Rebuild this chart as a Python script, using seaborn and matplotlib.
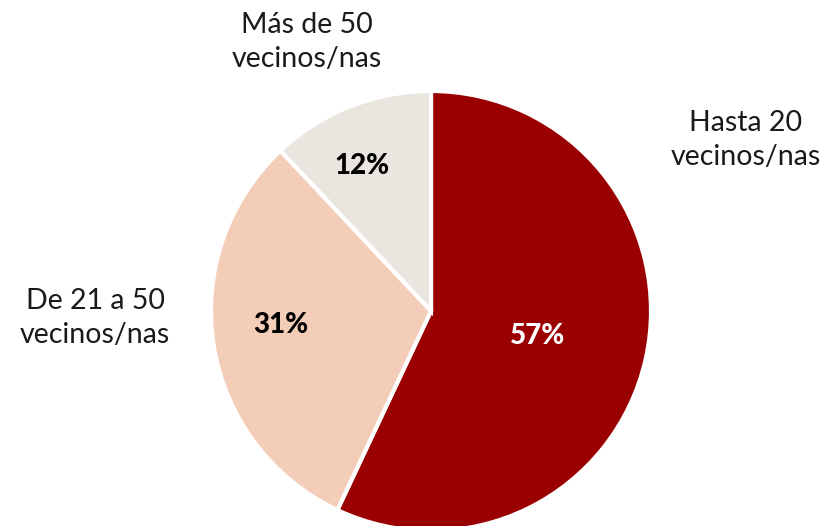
import matplotlib
matplotlib.use("Agg")
import matplotlib.pyplot as plt
import seaborn as sns

sns.set_theme(style="white")
plt.rcParams['font.family'] = ['Lato', 'DejaVu Sans']

categories = ["Hasta 20\nvecinos/nas", "De 21 a 50\nvecinos/nas", "Más de 50\nvecinos/nas"]
values = [57, 31, 12]
pct_labels = ["57%", "31%", "12%"]
colors = ["#9A0000", "#F4CDB8", "#EBE5DF"]
pct_colors = ["white", "black", "black"]

W, H = 828, 526
fig = plt.figure(figsize=(W / 100, H / 100), dpi=100)
cx, cy, r = 431, 311, 220  # pixel center/radius
ax = fig.add_axes([(cx - r) / W, (H - cy - r) / H, 2 * r / W, 2 * r / H])

wedges, _ = ax.pie(values, colors=colors, startangle=90, counterclock=False,
                   radius=1.0, wedgeprops=dict(edgecolor="white", linewidth=3))
ax.set_xlim(-1, 1)
ax.set_ylim(-1, 1)
ax.axis("off")

def px(x, y):
    return ((x - cx) / r, (cy - y) / r)

pct_pos = [px(538, 336), px(281, 325), px(362, 166)]
for lbl, pos, c in zip(pct_labels, pct_pos, pct_colors):
    ax.text(*pos, lbl, ha="center", va="center", fontsize=20, fontweight="black",
            color=c, clip_on=False)

cat_pos = [px(746, 140), px(95, 318), px(307, 42)]
for lbl, pos in zip(categories, cat_pos):
    ax.text(*pos, lbl, ha="center", va="center", fontsize=20.5, color="#1a1a1a",
            linespacing=1.38, clip_on=False)

fig.savefig("out.png", dpi=100)
